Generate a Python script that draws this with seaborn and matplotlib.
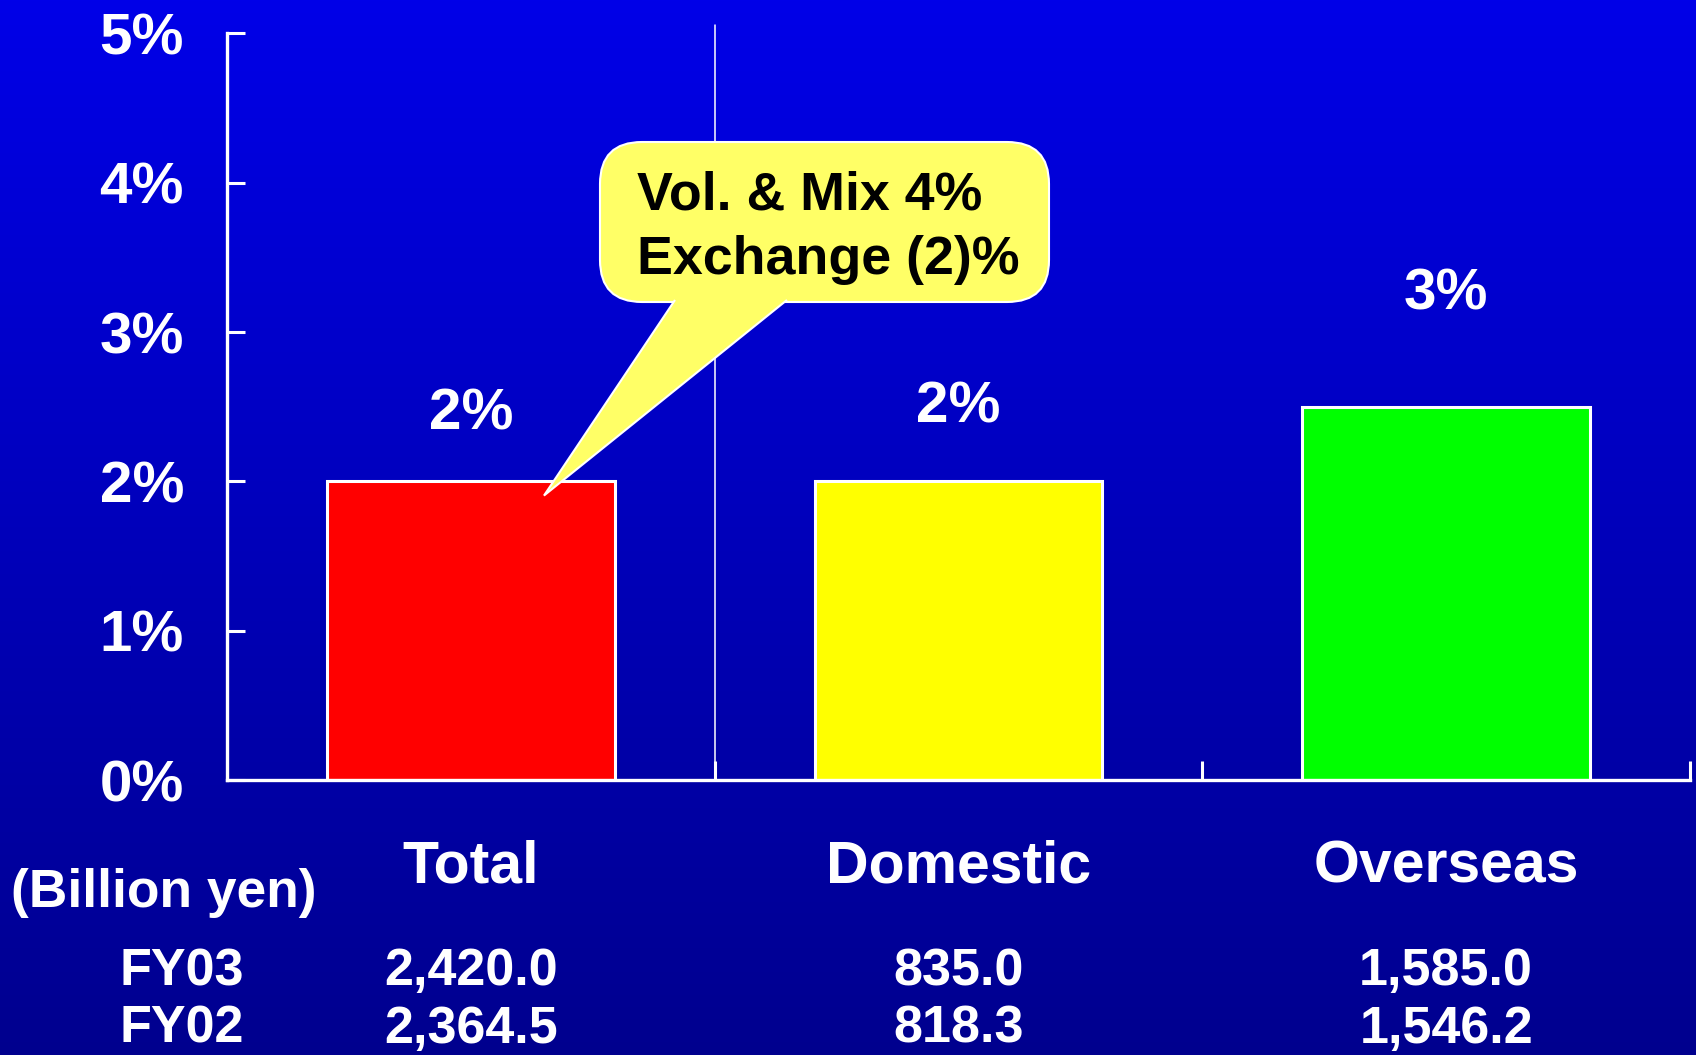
import numpy as np
import pandas as pd
import matplotlib
matplotlib.use("Agg")
import matplotlib.pyplot as plt
from matplotlib.patches import FancyBboxPatch, Polygon
import seaborn as sns

# Sales growth by segment (FY03 vs FY02)
categories = ["Total", "Domestic", "Overseas"]
growth_pct = [2.0, 2.0, 2.5]
bar_colors = ["#FF0000", "#FFFF00", "#00FF00"]
ytick_values = [0, 1, 2, 3, 4, 5]
row_labels = ["FY03", "FY02"]
fy03_sales = ["2,420.0", "835.0", "1,585.0"]
fy02_sales = ["2,364.5", "818.3", "1,546.2"]
unit_label = "(Billion yen)"
callout_lines = ["Vol. & Mix 4%", "Exchange (2)%"]

sns.set_theme(style="white")
plt.rcParams["font.family"] = ["Liberation Sans", "DejaVu Sans"]
plt.rcParams["font.weight"] = "bold"

W, H, DPI = 16.96, 10.55, 100
fig = plt.figure(figsize=(W, H), dpi=DPI)

# vertical blue gradient background
bg = fig.add_axes([0, 0, 1, 1], zorder=0)
top = np.array([0, 0, 232]) / 255
bot = np.array([0, 0, 142]) / 255
t = np.linspace(0, 1, 512)[:, None]
grad = (top[None, :] * (1 - t) + bot[None, :] * t)[:, None, :]
bg.imshow(grad, aspect="auto", extent=[0, 1, 0, 1])
bg.set_axis_off()

ax = fig.add_axes([227 / 1696, 1 - 780 / 1055, (1690 - 227) / 1696, (780 - 33.5) / 1055], zorder=1)
ax.set_facecolor("none")

df = pd.DataFrame({"segment": categories, "growth": growth_pct})
sns.barplot(data=df, x="segment", y="growth", hue="segment", palette=bar_colors,
            legend=False, width=0.59, edgecolor="white", linewidth=2.2, saturation=1,
            ax=ax, zorder=2)

ax.set_xlim(-0.5, 2.5)
ax.set_ylim(0, 5)
ax.set_xlabel("")
ax.set_ylabel("")

# axes styling
for side in ["top", "right"]:
    ax.spines[side].set_visible(False)
for side in ["left", "bottom"]:
    ax.spines[side].set_color("white")
    ax.spines[side].set_linewidth(2.4)

ax.set_yticks(ytick_values)
ax.set_yticklabels([f"{v}%" for v in ytick_values])
ax.tick_params(axis="y", direction="in", length=13, width=2.2, color="white",
               labelcolor="white", labelsize=42, pad=31, left=True)
for lbl in ax.get_yticklabels():
    lbl.set_fontweight("bold")

ax.set_xticks([0.5, 1.5, 2.5])
ax.set_xticklabels([])
ax.tick_params(axis="x", direction="in", length=14, width=2.2, color="white", bottom=True)

# thin divider between the Total and segment columns
ax.plot([0.5, 0.5], [0, 5.06], color="white", lw=1.1, clip_on=False, zorder=1.5)

# value labels over bars
label_y = [2.45, 2.495, 3.25]
for i, v in enumerate(growth_pct):
    ax.text(i, label_y[i], f"{int(v + 0.5)}%", ha="center", va="center",
            color="white", fontsize=42, fontweight="bold", zorder=3)

# category names and sales table under the axis
for i, c in enumerate(categories):
    ax.text(i, -0.58, c, ha="center", va="center", color="white",
            fontsize=42.5, fontweight="bold", clip_on=False)
    ax.text(i, -1.285, fy03_sales[i], ha="center", va="center", color="white",
            fontsize=37.5, fontweight="bold", clip_on=False)
    ax.text(i, -1.67, fy02_sales[i], ha="center", va="center", color="white",
            fontsize=37.5, fontweight="bold", clip_on=False)

fig.text(164 / 1696, 1 - 893 / 1055, unit_label, ha="center", va="center",
         color="white", fontsize=38.4, fontweight="bold")
fig.text(182 / 1696, 1 - 972 / 1055, row_labels[0], ha="center", va="center",
         color="white", fontsize=37.5, fontweight="bold")
fig.text(182 / 1696, 1 - 1029 / 1055, row_labels[1], ha="center", va="center",
         color="white", fontsize=37.5, fontweight="bold")

# callout bubble pointing at the Total bar (drawn in inches from the figure corner)
tr = fig.dpi_scale_trans
def px(x, y):
    return (x / DPI, (H * DPI - y) / DPI)

bx0, by0 = px(600, 302)
bx1, by1 = px(1049, 142)
fill = "#FFFF66"
box = FancyBboxPatch((bx0, by0), bx1 - bx0, by1 - by0,
                     boxstyle="round,pad=0,rounding_size=0.42",
                     facecolor=fill, edgecolor="white", linewidth=1.5,
                     transform=tr, zorder=5)
fig.add_artist(box)

tip_x = ax.transData.transform((-0.5 + (544 - 227) / 487.7, 1.905))
tip_in = fig.dpi_scale_trans.inverted().transform(tip_x)
tail = Polygon([px(675, 300), tuple(tip_in), px(787, 300)], closed=False,
               facecolor=fill, edgecolor="white", linewidth=1.5,
               transform=tr, zorder=6)
fig.add_artist(tail)

fig.text(637 / 1696, 1 - 195 / 1055, callout_lines[0], ha="left", va="center",
         color="black", fontsize=38.7, fontweight="bold", zorder=7)
fig.text(637 / 1696, 1 - 260 / 1055, callout_lines[1], ha="left", va="center",
         color="black", fontsize=38.7, fontweight="bold", zorder=7)

fig.savefig("out.png", dpi=DPI)
